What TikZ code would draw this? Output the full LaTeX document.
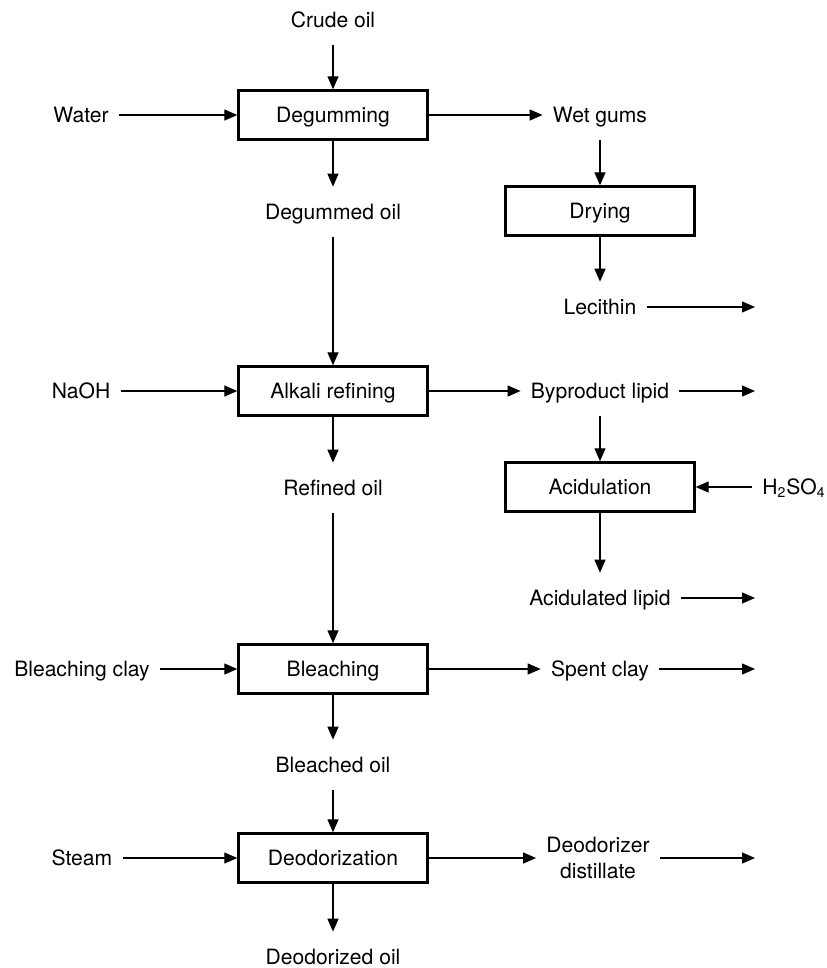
\documentclass[tikz,border=0pt]{standalone}
\usepackage{fontspec}
\setmainfont{TeX Gyre Heros}
\usepackage{tikz}
\usetikzlibrary{calc,arrows.meta}
\tikzset{
  process/.style={draw,line width=1.4pt,minimum width=3.78cm,minimum height=0.98cm,inner sep=0pt,text height=0.3cm,text depth=0cm},
  material/.style={inner xsep=0.2cm,inner ysep=0.35cm,text height=0.3cm,text depth=0cm},
  stream/.style={line width=0.7pt,-{Triangle[length=0.26cm,width=0.22cm]}}
}
\begin{document}
\begin{tikzpicture}[x=0.02cm,y=-0.02cm,font=\fontsize{12}{14.4}\selectfont]
  \useasboundingbox (0,0) rectangle (827,968);
  % main line
  \node[material] (crude) at (333,20) {Crude oil};
  \node[process] (degum) at (333,115) {Degumming};
  \node[material] (degummed) at (333,212) {Degummed oil};
  \node[process] (alkali) at (333,391) {Alkali refining};
  \node[material] (refined) at (333,488) {Refined oil};
  \node[process] (bleach) at (333,669) {Bleaching};
  \node[material] (bleached) at (333,765) {Bleached oil};
  \node[process] (deodor) at (333,858) {Deodorization};
  \node[material] (deodorized) at (333,957) {Deodorized oil};
  % inputs
  \node[material] (water) at (81,115) {Water};
  \node[material] (naoh) at (81,391) {NaOH};
  \node[material] (clay) at (82,669) {Bleaching clay};
  \node[material] (steam) at (82,858) {Steam};
  % byproducts
  \node[material] (wetgums) at (600,115) {Wet gums};
  \node[process] (drying) at (600,211) {Drying};
  \node[material] (lecithin) at (600,307) {Lecithin};
  \node[material] (byproduct) at (600,391) {Byproduct lipid};
  \node[process] (acidul) at (600,487) {Acidulation};
  \node[material] (acid) at (794,487) {H\textsubscript{2}SO\textsubscript{4}};
  \node[material] (acidulated) at (600,598) {Acidulated lipid};
  \node[material] (spent) at (600,669) {Spent clay};
  \node[material,align=center,text height={},text depth={}] (distillate) at (598,858) {Deodorizer\\distillate};
  \coordinate (lecithinout) at (755,307);
  \coordinate (byproductout) at (755,391);
  \coordinate (acidulatedout) at (755,598);
  \coordinate (spentout) at (755,669);
  \coordinate (distillateout) at (755,858);

  \draw[stream] (crude) -- (degum);
  \draw[stream] (degum) -- (degummed);
  \draw[stream] (degummed) -- (alkali);
  \draw[stream] (alkali) -- (refined);
  \draw[stream] (refined) -- (bleach);
  \draw[stream] (bleach) -- (bleached);
  \draw[stream] (bleached) -- (deodor);
  \draw[stream] (deodor) -- (deodorized);

  \draw[stream] (water) -- (degum);
  \draw[stream] (naoh) -- (alkali);
  \draw[stream] (clay) -- (bleach);
  \draw[stream] (steam) -- (deodor);

  \draw[stream] (degum) -- (wetgums);
  \draw[stream] (wetgums) -- (drying);
  \draw[stream] (drying) -- (lecithin);
  \draw[stream] (lecithin) -- (lecithinout);
  \draw[stream] (alkali) -- (byproduct);
  \draw[stream] (byproduct) -- (byproductout);
  \draw[stream] (byproduct) -- (acidul);
  \draw[stream] (acid) -- (acidul);
  \draw[stream] (acidul) -- (acidulated);
  \draw[stream] (acidulated) -- (acidulatedout);
  \draw[stream] (bleach) -- (spent);
  \draw[stream] (spent) -- (spentout);
  \draw[stream] (deodor) -- (distillate);
  \draw[stream] (distillate) -- (distillateout);
\end{tikzpicture}
\end{document}
